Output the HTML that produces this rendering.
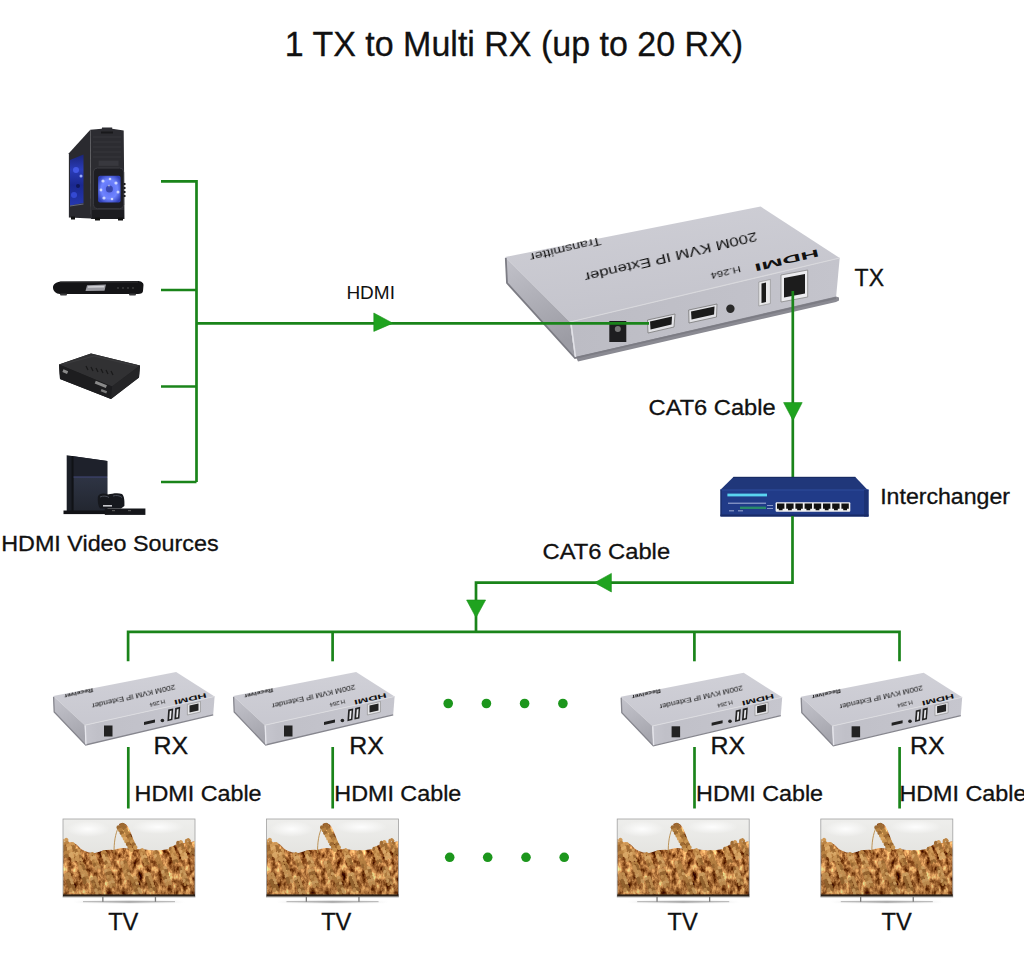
<!DOCTYPE html>
<html><head><meta charset="utf-8">
<style>
html,body{margin:0;padding:0;background:#fff;}
body{width:1024px;height:957px;overflow:hidden;position:relative;}
svg{position:absolute;left:0;top:0;display:block;}
text{font-family:"Liberation Sans",sans-serif;fill:#111;}
.lb{stroke:#111;stroke-width:0.3;}
</style></head>
<body>
<svg width="1024" height="957" viewBox="0 0 1024 957">
<defs>
  <filter id="soft" x="-10%" y="-30%" width="120%" height="160%"><feGaussianBlur stdDeviation="0.35"/></filter>
  <!-- TV symbol: local origin = screen top-left (0,0), 132 x 78 -->
  <linearGradient id="sky" x1="0" y1="0" x2="0" y2="1">
    <stop offset="0" stop-color="#eeeeec"/><stop offset="1" stop-color="#d9d8d3"/>
  </linearGradient>
  <linearGradient id="wheat" x1="0" y1="0" x2="0" y2="1">
    <stop offset="0" stop-color="#b8863e"/><stop offset="0.5" stop-color="#a87434"/><stop offset="1" stop-color="#8e5e28"/>
  </linearGradient>
  <radialGradient id="cloud" cx="0.5" cy="0.5" r="0.5">
    <stop offset="0" stop-color="#ffffff" stop-opacity="0.9"/><stop offset="1" stop-color="#ffffff" stop-opacity="0"/>
  </radialGradient>
  <filter id="wt" x="0" y="0" width="100%" height="100%" color-interpolation-filters="sRGB">
    <feTurbulence type="fractalNoise" baseFrequency="0.2 0.13" numOctaves="4" seed="3" result="n"/>
    <feColorMatrix in="n" type="matrix" values="1.5 0 0 0 -0.02  1.4 0 0 0 -0.225  1.05 0 0 0 -0.28  0 0 0 0 1" result="c"/>
    <feComposite in="c" in2="SourceGraphic" operator="in"/>
  </filter>
  <linearGradient id="shade" x1="0" y1="0" x2="0" y2="1">
    <stop offset="0" stop-color="#000" stop-opacity="0"/><stop offset="1" stop-color="#3a2208" stop-opacity="0.18"/>
  </linearGradient>
  <linearGradient id="standsh" x1="0" y1="0" x2="1" y2="0">
    <stop offset="0" stop-color="#ddd" stop-opacity="0"/><stop offset="0.5" stop-color="#b8b8b8"/><stop offset="1" stop-color="#ddd" stop-opacity="0"/>
  </linearGradient>
  <clipPath id="tvclip"><rect x="0" y="0" width="132" height="78"/></clipPath>
  <g id="tv">
    <rect x="0" y="0" width="132" height="78" fill="url(#sky)"/>
    <ellipse cx="25" cy="10" rx="22" ry="8" fill="url(#cloud)"/>
    <ellipse cx="95" cy="8" rx="26" ry="7" fill="url(#cloud)"/>
    <g filter="url(#wt)"><path d="M0,24 C6,22 12,23 16,28 C20,32 26,34 32,34 C40,31 46,30 50,31 L54,30 C60,28 66,30 70,30 C74,30 80,30 86,31 C94,32 100,31 106,30 C110,26 116,24 120,24 C124,24 128,23 132,22 L132,76 L0,76 Z" fill="#000"/><path d="M56,5 C60,2.5 64,5 66,10 C69,16 71,22 73.5,30 L69,32 C66,25 62,18 58,12 Z" fill="#000"/></g>
    <path d="M51,34 C51,24 52,15 56,7" stroke="#b88a48" stroke-width="0.9" fill="none"/>
    <g clip-path="url(#tvclip)">
<ellipse cx="59.7" cy="6.3" rx="2.2" ry="2.4" fill="#9c6a32" transform="rotate(33 59.7 6.3)"/>
<ellipse cx="55.8" cy="8.5" rx="2.2" ry="2.4" fill="#9c6a32" transform="rotate(89 55.8 8.5)"/>
<ellipse cx="61.3" cy="9.1" rx="2.2" ry="2.4" fill="#9c6a32" transform="rotate(33 61.3 9.1)"/>
<ellipse cx="57.4" cy="11.3" rx="2.2" ry="2.4" fill="#b48040" transform="rotate(89 57.4 11.3)"/>
<ellipse cx="62.8" cy="11.8" rx="2.2" ry="2.4" fill="#b48040" transform="rotate(33 62.8 11.8)"/>
<ellipse cx="58.9" cy="14.0" rx="2.2" ry="2.4" fill="#9c6a32" transform="rotate(89 58.9 14.0)"/>
<ellipse cx="64.4" cy="14.6" rx="2.2" ry="2.4" fill="#b48040" transform="rotate(33 64.4 14.6)"/>
<ellipse cx="60.5" cy="16.8" rx="2.2" ry="2.4" fill="#c89450" transform="rotate(89 60.5 16.8)"/>
<ellipse cx="66.0" cy="17.4" rx="2.2" ry="2.4" fill="#9c6a32" transform="rotate(33 66.0 17.4)"/>
<ellipse cx="62.0" cy="19.6" rx="2.2" ry="2.4" fill="#d8a460" transform="rotate(89 62.0 19.6)"/>
<ellipse cx="67.5" cy="20.2" rx="2.2" ry="2.4" fill="#b48040" transform="rotate(33 67.5 20.2)"/>
<ellipse cx="63.6" cy="22.4" rx="2.2" ry="2.4" fill="#c89450" transform="rotate(89 63.6 22.4)"/>
<ellipse cx="69.1" cy="23.0" rx="2.2" ry="2.4" fill="#c89450" transform="rotate(33 69.1 23.0)"/>
<ellipse cx="65.2" cy="25.2" rx="2.2" ry="2.4" fill="#9c6a32" transform="rotate(89 65.2 25.2)"/>
<ellipse cx="70.6" cy="25.7" rx="2.2" ry="2.4" fill="#9c6a32" transform="rotate(33 70.6 25.7)"/>
<ellipse cx="66.7" cy="27.9" rx="2.2" ry="2.4" fill="#b48040" transform="rotate(89 66.7 27.9)"/>
<ellipse cx="72.2" cy="28.5" rx="2.2" ry="2.4" fill="#c89450" transform="rotate(33 72.2 28.5)"/>
<ellipse cx="68.3" cy="30.7" rx="2.2" ry="2.4" fill="#c89450" transform="rotate(89 68.3 30.7)"/>
<ellipse cx="3.3" cy="21.0" rx="2.2" ry="2.1" fill="#d09a58" transform="rotate(46 3.3 21.0)"/>
<ellipse cx="-0.5" cy="22.0" rx="2.2" ry="2.1" fill="#d09a58" transform="rotate(102 -0.5 22.0)"/>
<ellipse cx="4.1" cy="24.0" rx="2.2" ry="2.1" fill="#bb8444" transform="rotate(46 4.1 24.0)"/>
<ellipse cx="0.4" cy="25.0" rx="2.2" ry="2.1" fill="#bb8444" transform="rotate(102 0.4 25.0)"/>
<ellipse cx="5.0" cy="27.0" rx="2.2" ry="2.1" fill="#d09a58" transform="rotate(46 5.0 27.0)"/>
<ellipse cx="1.2" cy="28.0" rx="2.2" ry="2.1" fill="#a06c34" transform="rotate(102 1.2 28.0)"/>
<ellipse cx="5.8" cy="30.0" rx="2.2" ry="2.1" fill="#dcaa68" transform="rotate(46 5.8 30.0)"/>
<ellipse cx="2.0" cy="31.0" rx="2.2" ry="2.1" fill="#a06c34" transform="rotate(102 2.0 31.0)"/>
<ellipse cx="6.6" cy="33.0" rx="2.2" ry="2.1" fill="#bb8444" transform="rotate(46 6.6 33.0)"/>
<ellipse cx="2.9" cy="34.0" rx="2.2" ry="2.1" fill="#bb8444" transform="rotate(102 2.9 34.0)"/>
<ellipse cx="7.5" cy="36.0" rx="2.2" ry="2.1" fill="#dcaa68" transform="rotate(46 7.5 36.0)"/>
<ellipse cx="3.7" cy="37.0" rx="2.2" ry="2.1" fill="#a06c34" transform="rotate(102 3.7 37.0)"/>
<ellipse cx="10.0" cy="25.1" rx="2.2" ry="1.8" fill="#d09a58" transform="rotate(49 10.0 25.1)"/>
<ellipse cx="6.7" cy="25.9" rx="2.2" ry="1.8" fill="#d09a58" transform="rotate(105 6.7 25.9)"/>
<ellipse cx="10.6" cy="28.1" rx="2.2" ry="1.8" fill="#a06c34" transform="rotate(49 10.6 28.1)"/>
<ellipse cx="7.4" cy="28.9" rx="2.2" ry="1.8" fill="#dcaa68" transform="rotate(105 7.4 28.9)"/>
<ellipse cx="11.3" cy="31.1" rx="2.2" ry="1.8" fill="#a06c34" transform="rotate(49 11.3 31.1)"/>
<ellipse cx="8.0" cy="31.9" rx="2.2" ry="1.8" fill="#d09a58" transform="rotate(105 8.0 31.9)"/>
<ellipse cx="12.0" cy="34.1" rx="2.2" ry="1.8" fill="#dcaa68" transform="rotate(49 12.0 34.1)"/>
<ellipse cx="8.7" cy="34.9" rx="2.2" ry="1.8" fill="#dcaa68" transform="rotate(105 8.7 34.9)"/>
<ellipse cx="12.6" cy="37.1" rx="2.2" ry="1.8" fill="#bb8444" transform="rotate(49 12.6 37.1)"/>
<ellipse cx="9.4" cy="37.9" rx="2.2" ry="1.8" fill="#dcaa68" transform="rotate(105 9.4 37.9)"/>
<ellipse cx="13.3" cy="40.1" rx="2.2" ry="1.8" fill="#d09a58" transform="rotate(49 13.3 40.1)"/>
<ellipse cx="10.0" cy="40.9" rx="2.2" ry="1.8" fill="#d09a58" transform="rotate(105 10.0 40.9)"/>
<ellipse cx="15.8" cy="31.3" rx="2.3" ry="1.5" fill="#d09a58" transform="rotate(48 15.8 31.3)"/>
<ellipse cx="13.0" cy="31.9" rx="2.3" ry="1.5" fill="#a06c34" transform="rotate(104 13.0 31.9)"/>
<ellipse cx="16.6" cy="34.5" rx="2.3" ry="1.5" fill="#d09a58" transform="rotate(48 16.6 34.5)"/>
<ellipse cx="13.8" cy="35.1" rx="2.3" ry="1.5" fill="#dcaa68" transform="rotate(104 13.8 35.1)"/>
<ellipse cx="17.4" cy="37.7" rx="2.3" ry="1.5" fill="#a06c34" transform="rotate(48 17.4 37.7)"/>
<ellipse cx="14.6" cy="38.3" rx="2.3" ry="1.5" fill="#d09a58" transform="rotate(104 14.6 38.3)"/>
<ellipse cx="18.2" cy="40.9" rx="2.3" ry="1.5" fill="#d09a58" transform="rotate(48 18.2 40.9)"/>
<ellipse cx="15.4" cy="41.5" rx="2.3" ry="1.5" fill="#d09a58" transform="rotate(104 15.4 41.5)"/>
<ellipse cx="19.0" cy="44.1" rx="2.3" ry="1.5" fill="#bb8444" transform="rotate(48 19.0 44.1)"/>
<ellipse cx="16.2" cy="44.7" rx="2.3" ry="1.5" fill="#bb8444" transform="rotate(104 16.2 44.7)"/>
<ellipse cx="118.1" cy="23.0" rx="2.2" ry="1.8" fill="#d09a58" transform="rotate(44 118.1 23.0)"/>
<ellipse cx="114.9" cy="24.0" rx="2.2" ry="1.8" fill="#a06c34" transform="rotate(100 114.9 24.0)"/>
<ellipse cx="119.1" cy="26.0" rx="2.2" ry="1.8" fill="#a06c34" transform="rotate(44 119.1 26.0)"/>
<ellipse cx="115.9" cy="27.0" rx="2.2" ry="1.8" fill="#a06c34" transform="rotate(100 115.9 27.0)"/>
<ellipse cx="120.1" cy="29.0" rx="2.2" ry="1.8" fill="#a06c34" transform="rotate(44 120.1 29.0)"/>
<ellipse cx="116.9" cy="30.0" rx="2.2" ry="1.8" fill="#d09a58" transform="rotate(100 116.9 30.0)"/>
<ellipse cx="121.1" cy="32.0" rx="2.2" ry="1.8" fill="#bb8444" transform="rotate(44 121.1 32.0)"/>
<ellipse cx="117.9" cy="33.0" rx="2.2" ry="1.8" fill="#dcaa68" transform="rotate(100 117.9 33.0)"/>
<ellipse cx="122.1" cy="35.0" rx="2.2" ry="1.8" fill="#dcaa68" transform="rotate(44 122.1 35.0)"/>
<ellipse cx="118.9" cy="36.0" rx="2.2" ry="1.8" fill="#d09a58" transform="rotate(100 118.9 36.0)"/>
<ellipse cx="123.1" cy="38.0" rx="2.2" ry="1.8" fill="#dcaa68" transform="rotate(44 123.1 38.0)"/>
<ellipse cx="119.9" cy="39.0" rx="2.2" ry="1.8" fill="#dcaa68" transform="rotate(100 119.9 39.0)"/>
<ellipse cx="109.8" cy="29.2" rx="2.3" ry="1.5" fill="#d09a58" transform="rotate(45 109.8 29.2)"/>
<ellipse cx="107.2" cy="30.0" rx="2.3" ry="1.5" fill="#a06c34" transform="rotate(101 107.2 30.0)"/>
<ellipse cx="110.8" cy="32.4" rx="2.3" ry="1.5" fill="#d09a58" transform="rotate(45 110.8 32.4)"/>
<ellipse cx="108.2" cy="33.2" rx="2.3" ry="1.5" fill="#bb8444" transform="rotate(101 108.2 33.2)"/>
<ellipse cx="111.8" cy="35.6" rx="2.3" ry="1.5" fill="#bb8444" transform="rotate(45 111.8 35.6)"/>
<ellipse cx="109.2" cy="36.4" rx="2.3" ry="1.5" fill="#d09a58" transform="rotate(101 109.2 36.4)"/>
<ellipse cx="112.8" cy="38.8" rx="2.3" ry="1.5" fill="#d09a58" transform="rotate(45 112.8 38.8)"/>
<ellipse cx="110.2" cy="39.6" rx="2.3" ry="1.5" fill="#d09a58" transform="rotate(101 110.2 39.6)"/>
<ellipse cx="113.8" cy="42.0" rx="2.3" ry="1.5" fill="#a06c34" transform="rotate(45 113.8 42.0)"/>
<ellipse cx="111.2" cy="42.8" rx="2.3" ry="1.5" fill="#a06c34" transform="rotate(101 111.2 42.8)"/>
<ellipse cx="125.9" cy="21.1" rx="2.4" ry="1.5" fill="#bb8444" transform="rotate(41 125.9 21.1)"/>
<ellipse cx="123.3" cy="22.1" rx="2.4" ry="1.5" fill="#bb8444" transform="rotate(97 123.3 22.1)"/>
<ellipse cx="127.1" cy="24.3" rx="2.4" ry="1.5" fill="#a06c34" transform="rotate(41 127.1 24.3)"/>
<ellipse cx="124.5" cy="25.3" rx="2.4" ry="1.5" fill="#bb8444" transform="rotate(97 124.5 25.3)"/>
<ellipse cx="128.3" cy="27.5" rx="2.4" ry="1.5" fill="#bb8444" transform="rotate(41 128.3 27.5)"/>
<ellipse cx="125.7" cy="28.5" rx="2.4" ry="1.5" fill="#a06c34" transform="rotate(97 125.7 28.5)"/>
<ellipse cx="129.5" cy="30.7" rx="2.4" ry="1.5" fill="#a06c34" transform="rotate(41 129.5 30.7)"/>
<ellipse cx="126.9" cy="31.7" rx="2.4" ry="1.5" fill="#d09a58" transform="rotate(97 126.9 31.7)"/>
<ellipse cx="130.7" cy="33.9" rx="2.4" ry="1.5" fill="#a06c34" transform="rotate(41 130.7 33.9)"/>
<ellipse cx="128.1" cy="34.9" rx="2.4" ry="1.5" fill="#a06c34" transform="rotate(97 128.1 34.9)"/>
<ellipse cx="30.0" cy="35.0" rx="2.4" ry="1.5" fill="#bb8444" transform="rotate(38 30.0 35.0)"/>
<ellipse cx="27.4" cy="36.2" rx="2.4" ry="1.5" fill="#d09a58" transform="rotate(94 27.4 36.2)"/>
<ellipse cx="31.4" cy="38.2" rx="2.4" ry="1.5" fill="#dcaa68" transform="rotate(38 31.4 38.2)"/>
<ellipse cx="28.8" cy="39.4" rx="2.4" ry="1.5" fill="#dcaa68" transform="rotate(94 28.8 39.4)"/>
<ellipse cx="32.8" cy="41.4" rx="2.4" ry="1.5" fill="#d09a58" transform="rotate(38 32.8 41.4)"/>
<ellipse cx="30.2" cy="42.6" rx="2.4" ry="1.5" fill="#bb8444" transform="rotate(94 30.2 42.6)"/>
<ellipse cx="34.2" cy="44.6" rx="2.4" ry="1.5" fill="#bb8444" transform="rotate(38 34.2 44.6)"/>
<ellipse cx="31.6" cy="45.8" rx="2.4" ry="1.5" fill="#a06c34" transform="rotate(94 31.6 45.8)"/>
<ellipse cx="35.6" cy="47.8" rx="2.4" ry="1.5" fill="#d09a58" transform="rotate(38 35.6 47.8)"/>
<ellipse cx="33.0" cy="49.0" rx="2.4" ry="1.5" fill="#d09a58" transform="rotate(94 33.0 49.0)"/>
<ellipse cx="41.9" cy="33.1" rx="2.4" ry="1.5" fill="#bb8444" transform="rotate(41 41.9 33.1)"/>
<ellipse cx="39.3" cy="34.1" rx="2.4" ry="1.5" fill="#bb8444" transform="rotate(97 39.3 34.1)"/>
<ellipse cx="43.1" cy="36.3" rx="2.4" ry="1.5" fill="#a06c34" transform="rotate(41 43.1 36.3)"/>
<ellipse cx="40.5" cy="37.3" rx="2.4" ry="1.5" fill="#dcaa68" transform="rotate(97 40.5 37.3)"/>
<ellipse cx="44.3" cy="39.5" rx="2.4" ry="1.5" fill="#d09a58" transform="rotate(41 44.3 39.5)"/>
<ellipse cx="41.7" cy="40.5" rx="2.4" ry="1.5" fill="#dcaa68" transform="rotate(97 41.7 40.5)"/>
<ellipse cx="45.5" cy="42.7" rx="2.4" ry="1.5" fill="#dcaa68" transform="rotate(41 45.5 42.7)"/>
<ellipse cx="42.9" cy="43.7" rx="2.4" ry="1.5" fill="#a06c34" transform="rotate(97 42.9 43.7)"/>
<ellipse cx="46.7" cy="45.9" rx="2.4" ry="1.5" fill="#d09a58" transform="rotate(41 46.7 45.9)"/>
<ellipse cx="44.1" cy="46.9" rx="2.4" ry="1.5" fill="#d09a58" transform="rotate(97 44.1 46.9)"/>
<ellipse cx="79.9" cy="31.1" rx="2.4" ry="1.5" fill="#d09a58" transform="rotate(41 79.9 31.1)"/>
<ellipse cx="77.3" cy="32.1" rx="2.4" ry="1.5" fill="#bb8444" transform="rotate(97 77.3 32.1)"/>
<ellipse cx="81.1" cy="34.3" rx="2.4" ry="1.5" fill="#bb8444" transform="rotate(41 81.1 34.3)"/>
<ellipse cx="78.5" cy="35.3" rx="2.4" ry="1.5" fill="#d09a58" transform="rotate(97 78.5 35.3)"/>
<ellipse cx="82.3" cy="37.5" rx="2.4" ry="1.5" fill="#dcaa68" transform="rotate(41 82.3 37.5)"/>
<ellipse cx="79.7" cy="38.5" rx="2.4" ry="1.5" fill="#dcaa68" transform="rotate(97 79.7 38.5)"/>
<ellipse cx="83.5" cy="40.7" rx="2.4" ry="1.5" fill="#a06c34" transform="rotate(41 83.5 40.7)"/>
<ellipse cx="80.9" cy="41.7" rx="2.4" ry="1.5" fill="#bb8444" transform="rotate(97 80.9 41.7)"/>
<ellipse cx="84.7" cy="43.9" rx="2.4" ry="1.5" fill="#a06c34" transform="rotate(41 84.7 43.9)"/>
<ellipse cx="82.1" cy="44.9" rx="2.4" ry="1.5" fill="#bb8444" transform="rotate(97 82.1 44.9)"/>
<ellipse cx="93.9" cy="33.1" rx="2.4" ry="1.5" fill="#a06c34" transform="rotate(41 93.9 33.1)"/>
<ellipse cx="91.3" cy="34.1" rx="2.4" ry="1.5" fill="#bb8444" transform="rotate(97 91.3 34.1)"/>
<ellipse cx="95.1" cy="36.3" rx="2.4" ry="1.5" fill="#bb8444" transform="rotate(41 95.1 36.3)"/>
<ellipse cx="92.5" cy="37.3" rx="2.4" ry="1.5" fill="#dcaa68" transform="rotate(97 92.5 37.3)"/>
<ellipse cx="96.3" cy="39.5" rx="2.4" ry="1.5" fill="#bb8444" transform="rotate(41 96.3 39.5)"/>
<ellipse cx="93.7" cy="40.5" rx="2.4" ry="1.5" fill="#bb8444" transform="rotate(97 93.7 40.5)"/>
<ellipse cx="97.5" cy="42.7" rx="2.4" ry="1.5" fill="#bb8444" transform="rotate(41 97.5 42.7)"/>
<ellipse cx="94.9" cy="43.7" rx="2.4" ry="1.5" fill="#bb8444" transform="rotate(97 94.9 43.7)"/>
<ellipse cx="98.7" cy="45.9" rx="2.4" ry="1.5" fill="#bb8444" transform="rotate(41 98.7 45.9)"/>
<ellipse cx="96.1" cy="46.9" rx="2.4" ry="1.5" fill="#a06c34" transform="rotate(97 96.1 46.9)"/>
<ellipse cx="20.1" cy="47.0" rx="2.2" ry="1.8" fill="#a06c34" transform="rotate(44 20.1 47.0)"/>
<ellipse cx="16.9" cy="48.0" rx="2.2" ry="1.8" fill="#d09a58" transform="rotate(100 16.9 48.0)"/>
<ellipse cx="21.1" cy="50.0" rx="2.2" ry="1.8" fill="#a06c34" transform="rotate(44 21.1 50.0)"/>
<ellipse cx="17.9" cy="51.0" rx="2.2" ry="1.8" fill="#d09a58" transform="rotate(100 17.9 51.0)"/>
<ellipse cx="22.1" cy="53.0" rx="2.2" ry="1.8" fill="#d09a58" transform="rotate(44 22.1 53.0)"/>
<ellipse cx="18.9" cy="54.0" rx="2.2" ry="1.8" fill="#d09a58" transform="rotate(100 18.9 54.0)"/>
<ellipse cx="23.1" cy="56.0" rx="2.2" ry="1.8" fill="#d09a58" transform="rotate(44 23.1 56.0)"/>
<ellipse cx="19.9" cy="57.0" rx="2.2" ry="1.8" fill="#dcaa68" transform="rotate(100 19.9 57.0)"/>
<ellipse cx="24.1" cy="59.0" rx="2.2" ry="1.8" fill="#bb8444" transform="rotate(44 24.1 59.0)"/>
<ellipse cx="20.9" cy="60.0" rx="2.2" ry="1.8" fill="#a06c34" transform="rotate(100 20.9 60.0)"/>
<ellipse cx="25.1" cy="62.0" rx="2.2" ry="1.8" fill="#dcaa68" transform="rotate(44 25.1 62.0)"/>
<ellipse cx="21.9" cy="63.0" rx="2.2" ry="1.8" fill="#a06c34" transform="rotate(100 21.9 63.0)"/>
<ellipse cx="62.1" cy="43.0" rx="2.2" ry="1.8" fill="#a06c34" transform="rotate(44 62.1 43.0)"/>
<ellipse cx="58.9" cy="44.0" rx="2.2" ry="1.8" fill="#dcaa68" transform="rotate(100 58.9 44.0)"/>
<ellipse cx="63.1" cy="46.0" rx="2.2" ry="1.8" fill="#bb8444" transform="rotate(44 63.1 46.0)"/>
<ellipse cx="59.9" cy="47.0" rx="2.2" ry="1.8" fill="#d09a58" transform="rotate(100 59.9 47.0)"/>
<ellipse cx="64.1" cy="49.0" rx="2.2" ry="1.8" fill="#bb8444" transform="rotate(44 64.1 49.0)"/>
<ellipse cx="60.9" cy="50.0" rx="2.2" ry="1.8" fill="#bb8444" transform="rotate(100 60.9 50.0)"/>
<ellipse cx="65.1" cy="52.0" rx="2.2" ry="1.8" fill="#a06c34" transform="rotate(44 65.1 52.0)"/>
<ellipse cx="61.9" cy="53.0" rx="2.2" ry="1.8" fill="#d09a58" transform="rotate(100 61.9 53.0)"/>
<ellipse cx="66.1" cy="55.0" rx="2.2" ry="1.8" fill="#dcaa68" transform="rotate(44 66.1 55.0)"/>
<ellipse cx="62.9" cy="56.0" rx="2.2" ry="1.8" fill="#bb8444" transform="rotate(100 62.9 56.0)"/>
<ellipse cx="67.1" cy="58.0" rx="2.2" ry="1.8" fill="#bb8444" transform="rotate(44 67.1 58.0)"/>
<ellipse cx="63.9" cy="59.0" rx="2.2" ry="1.8" fill="#d09a58" transform="rotate(100 63.9 59.0)"/>
<ellipse cx="46.1" cy="51.0" rx="2.2" ry="1.8" fill="#d09a58" transform="rotate(44 46.1 51.0)"/>
<ellipse cx="42.9" cy="52.0" rx="2.2" ry="1.8" fill="#dcaa68" transform="rotate(100 42.9 52.0)"/>
<ellipse cx="47.1" cy="54.0" rx="2.2" ry="1.8" fill="#a06c34" transform="rotate(44 47.1 54.0)"/>
<ellipse cx="43.9" cy="55.0" rx="2.2" ry="1.8" fill="#a06c34" transform="rotate(100 43.9 55.0)"/>
<ellipse cx="48.1" cy="57.0" rx="2.2" ry="1.8" fill="#bb8444" transform="rotate(44 48.1 57.0)"/>
<ellipse cx="44.9" cy="58.0" rx="2.2" ry="1.8" fill="#d09a58" transform="rotate(100 44.9 58.0)"/>
<ellipse cx="49.1" cy="60.0" rx="2.2" ry="1.8" fill="#d09a58" transform="rotate(44 49.1 60.0)"/>
<ellipse cx="45.9" cy="61.0" rx="2.2" ry="1.8" fill="#bb8444" transform="rotate(100 45.9 61.0)"/>
<ellipse cx="50.1" cy="63.0" rx="2.2" ry="1.8" fill="#dcaa68" transform="rotate(44 50.1 63.0)"/>
<ellipse cx="46.9" cy="64.0" rx="2.2" ry="1.8" fill="#dcaa68" transform="rotate(100 46.9 64.0)"/>
<ellipse cx="51.1" cy="66.0" rx="2.2" ry="1.8" fill="#bb8444" transform="rotate(44 51.1 66.0)"/>
<ellipse cx="47.9" cy="67.0" rx="2.2" ry="1.8" fill="#d09a58" transform="rotate(100 47.9 67.0)"/>
<ellipse cx="102.1" cy="49.0" rx="2.2" ry="1.8" fill="#dcaa68" transform="rotate(44 102.1 49.0)"/>
<ellipse cx="98.9" cy="50.0" rx="2.2" ry="1.8" fill="#bb8444" transform="rotate(100 98.9 50.0)"/>
<ellipse cx="103.1" cy="52.0" rx="2.2" ry="1.8" fill="#a06c34" transform="rotate(44 103.1 52.0)"/>
<ellipse cx="99.9" cy="53.0" rx="2.2" ry="1.8" fill="#dcaa68" transform="rotate(100 99.9 53.0)"/>
<ellipse cx="104.1" cy="55.0" rx="2.2" ry="1.8" fill="#bb8444" transform="rotate(44 104.1 55.0)"/>
<ellipse cx="100.9" cy="56.0" rx="2.2" ry="1.8" fill="#d09a58" transform="rotate(100 100.9 56.0)"/>
<ellipse cx="105.1" cy="58.0" rx="2.2" ry="1.8" fill="#d09a58" transform="rotate(44 105.1 58.0)"/>
<ellipse cx="101.9" cy="59.0" rx="2.2" ry="1.8" fill="#a06c34" transform="rotate(100 101.9 59.0)"/>
<ellipse cx="106.1" cy="61.0" rx="2.2" ry="1.8" fill="#dcaa68" transform="rotate(44 106.1 61.0)"/>
<ellipse cx="102.9" cy="62.0" rx="2.2" ry="1.8" fill="#dcaa68" transform="rotate(100 102.9 62.0)"/>
<ellipse cx="107.1" cy="64.0" rx="2.2" ry="1.8" fill="#d09a58" transform="rotate(44 107.1 64.0)"/>
<ellipse cx="103.9" cy="65.0" rx="2.2" ry="1.8" fill="#d09a58" transform="rotate(100 103.9 65.0)"/>
<ellipse cx="119.8" cy="49.1" rx="2.2" ry="1.5" fill="#d09a58" transform="rotate(44 119.8 49.1)"/>
<ellipse cx="117.2" cy="49.9" rx="2.2" ry="1.5" fill="#a06c34" transform="rotate(100 117.2 49.9)"/>
<ellipse cx="120.8" cy="52.1" rx="2.2" ry="1.5" fill="#d09a58" transform="rotate(44 120.8 52.1)"/>
<ellipse cx="118.2" cy="52.9" rx="2.2" ry="1.5" fill="#dcaa68" transform="rotate(100 118.2 52.9)"/>
<ellipse cx="121.8" cy="55.1" rx="2.2" ry="1.5" fill="#dcaa68" transform="rotate(44 121.8 55.1)"/>
<ellipse cx="119.2" cy="55.9" rx="2.2" ry="1.5" fill="#bb8444" transform="rotate(100 119.2 55.9)"/>
<ellipse cx="122.8" cy="58.1" rx="2.2" ry="1.5" fill="#d09a58" transform="rotate(44 122.8 58.1)"/>
<ellipse cx="120.2" cy="58.9" rx="2.2" ry="1.5" fill="#d09a58" transform="rotate(100 120.2 58.9)"/>
<ellipse cx="123.8" cy="61.1" rx="2.2" ry="1.5" fill="#a06c34" transform="rotate(44 123.8 61.1)"/>
<ellipse cx="121.2" cy="61.9" rx="2.2" ry="1.5" fill="#dcaa68" transform="rotate(100 121.2 61.9)"/>
<ellipse cx="124.8" cy="64.1" rx="2.2" ry="1.5" fill="#d09a58" transform="rotate(44 124.8 64.1)"/>
<ellipse cx="122.2" cy="64.9" rx="2.2" ry="1.5" fill="#bb8444" transform="rotate(100 122.2 64.9)"/>
<ellipse cx="86.1" cy="55.0" rx="2.2" ry="1.8" fill="#dcaa68" transform="rotate(44 86.1 55.0)"/>
<ellipse cx="82.9" cy="56.0" rx="2.2" ry="1.8" fill="#dcaa68" transform="rotate(100 82.9 56.0)"/>
<ellipse cx="87.1" cy="58.0" rx="2.2" ry="1.8" fill="#d09a58" transform="rotate(44 87.1 58.0)"/>
<ellipse cx="83.9" cy="59.0" rx="2.2" ry="1.8" fill="#a06c34" transform="rotate(100 83.9 59.0)"/>
<ellipse cx="88.1" cy="61.0" rx="2.2" ry="1.8" fill="#d09a58" transform="rotate(44 88.1 61.0)"/>
<ellipse cx="84.9" cy="62.0" rx="2.2" ry="1.8" fill="#a06c34" transform="rotate(100 84.9 62.0)"/>
<ellipse cx="89.1" cy="64.0" rx="2.2" ry="1.8" fill="#d09a58" transform="rotate(44 89.1 64.0)"/>
<ellipse cx="85.9" cy="65.0" rx="2.2" ry="1.8" fill="#a06c34" transform="rotate(100 85.9 65.0)"/>
<ellipse cx="90.1" cy="67.0" rx="2.2" ry="1.8" fill="#d09a58" transform="rotate(44 90.1 67.0)"/>
<ellipse cx="86.9" cy="68.0" rx="2.2" ry="1.8" fill="#a06c34" transform="rotate(100 86.9 68.0)"/>
<ellipse cx="91.1" cy="70.0" rx="2.2" ry="1.8" fill="#a06c34" transform="rotate(44 91.1 70.0)"/>
<ellipse cx="87.9" cy="71.0" rx="2.2" ry="1.8" fill="#d09a58" transform="rotate(100 87.9 71.0)"/>
<ellipse cx="6.1" cy="55.0" rx="2.2" ry="1.8" fill="#d09a58" transform="rotate(44 6.1 55.0)"/>
<ellipse cx="2.9" cy="56.0" rx="2.2" ry="1.8" fill="#d09a58" transform="rotate(100 2.9 56.0)"/>
<ellipse cx="7.1" cy="58.0" rx="2.2" ry="1.8" fill="#d09a58" transform="rotate(44 7.1 58.0)"/>
<ellipse cx="3.9" cy="59.0" rx="2.2" ry="1.8" fill="#d09a58" transform="rotate(100 3.9 59.0)"/>
<ellipse cx="8.1" cy="61.0" rx="2.2" ry="1.8" fill="#dcaa68" transform="rotate(44 8.1 61.0)"/>
<ellipse cx="4.9" cy="62.0" rx="2.2" ry="1.8" fill="#a06c34" transform="rotate(100 4.9 62.0)"/>
<ellipse cx="9.1" cy="64.0" rx="2.2" ry="1.8" fill="#dcaa68" transform="rotate(44 9.1 64.0)"/>
<ellipse cx="5.9" cy="65.0" rx="2.2" ry="1.8" fill="#a06c34" transform="rotate(100 5.9 65.0)"/>
<ellipse cx="10.1" cy="67.0" rx="2.2" ry="1.8" fill="#a06c34" transform="rotate(44 10.1 67.0)"/>
<ellipse cx="6.9" cy="68.0" rx="2.2" ry="1.8" fill="#a06c34" transform="rotate(100 6.9 68.0)"/>
<ellipse cx="11.1" cy="70.0" rx="2.2" ry="1.8" fill="#a06c34" transform="rotate(44 11.1 70.0)"/>
<ellipse cx="7.9" cy="71.0" rx="2.2" ry="1.8" fill="#d09a58" transform="rotate(100 7.9 71.0)"/>
<ellipse cx="32.1" cy="58.9" rx="2.1" ry="1.8" fill="#d09a58" transform="rotate(43 32.1 58.9)"/>
<ellipse cx="28.9" cy="60.0" rx="2.1" ry="1.8" fill="#dcaa68" transform="rotate(99 28.9 60.0)"/>
<ellipse cx="33.1" cy="61.7" rx="2.1" ry="1.8" fill="#d09a58" transform="rotate(43 33.1 61.7)"/>
<ellipse cx="29.9" cy="62.8" rx="2.1" ry="1.8" fill="#a06c34" transform="rotate(99 29.9 62.8)"/>
<ellipse cx="34.1" cy="64.5" rx="2.1" ry="1.8" fill="#d09a58" transform="rotate(43 34.1 64.5)"/>
<ellipse cx="30.9" cy="65.6" rx="2.1" ry="1.8" fill="#bb8444" transform="rotate(99 30.9 65.6)"/>
<ellipse cx="35.1" cy="67.4" rx="2.1" ry="1.8" fill="#d09a58" transform="rotate(43 35.1 67.4)"/>
<ellipse cx="31.9" cy="68.5" rx="2.1" ry="1.8" fill="#a06c34" transform="rotate(99 31.9 68.5)"/>
<ellipse cx="36.1" cy="70.2" rx="2.1" ry="1.8" fill="#a06c34" transform="rotate(43 36.1 70.2)"/>
<ellipse cx="32.9" cy="71.3" rx="2.1" ry="1.8" fill="#dcaa68" transform="rotate(99 32.9 71.3)"/>
<ellipse cx="37.1" cy="73.0" rx="2.1" ry="1.8" fill="#d09a58" transform="rotate(43 37.1 73.0)"/>
<ellipse cx="33.9" cy="74.1" rx="2.1" ry="1.8" fill="#dcaa68" transform="rotate(99 33.9 74.1)"/>
<ellipse cx="72.1" cy="58.9" rx="2.1" ry="1.8" fill="#dcaa68" transform="rotate(43 72.1 58.9)"/>
<ellipse cx="68.9" cy="60.0" rx="2.1" ry="1.8" fill="#bb8444" transform="rotate(99 68.9 60.0)"/>
<ellipse cx="73.1" cy="61.7" rx="2.1" ry="1.8" fill="#bb8444" transform="rotate(43 73.1 61.7)"/>
<ellipse cx="69.9" cy="62.8" rx="2.1" ry="1.8" fill="#bb8444" transform="rotate(99 69.9 62.8)"/>
<ellipse cx="74.1" cy="64.5" rx="2.1" ry="1.8" fill="#dcaa68" transform="rotate(43 74.1 64.5)"/>
<ellipse cx="70.9" cy="65.6" rx="2.1" ry="1.8" fill="#a06c34" transform="rotate(99 70.9 65.6)"/>
<ellipse cx="75.1" cy="67.4" rx="2.1" ry="1.8" fill="#a06c34" transform="rotate(43 75.1 67.4)"/>
<ellipse cx="71.9" cy="68.5" rx="2.1" ry="1.8" fill="#bb8444" transform="rotate(99 71.9 68.5)"/>
<ellipse cx="76.1" cy="70.2" rx="2.1" ry="1.8" fill="#dcaa68" transform="rotate(43 76.1 70.2)"/>
<ellipse cx="72.9" cy="71.3" rx="2.1" ry="1.8" fill="#a06c34" transform="rotate(99 72.9 71.3)"/>
<ellipse cx="77.1" cy="73.0" rx="2.1" ry="1.8" fill="#dcaa68" transform="rotate(43 77.1 73.0)"/>
<ellipse cx="73.9" cy="74.1" rx="2.1" ry="1.8" fill="#bb8444" transform="rotate(99 73.9 74.1)"/>
</g>
    <rect x="0" y="30" width="132" height="46" fill="url(#shade)"/>
    <rect x="0" y="0" width="132" height="78" fill="none" stroke="#a0a0a0" stroke-width="0.8"/>
    <rect x="0" y="75.4" width="132" height="2" fill="#2a2018"/>
    <rect x="10" y="81.6" width="112" height="2.6" fill="url(#standsh)"/>
    <rect x="20" y="82" width="92" height="1.2" fill="#a4a4a4" opacity="0.7"/>
    <rect x="39.2" y="77.2" width="1.3" height="5.6" fill="#7a7a7a"/>
    <rect x="91.8" y="77.2" width="1.3" height="5.6" fill="#7a7a7a"/>
  </g>

  <!-- RX box (box 1 absolute coords) -->
  <linearGradient id="rxTop" x1="0" y1="0" x2="0" y2="1">
    <stop offset="0" stop-color="#d0d0d7"/><stop offset="1" stop-color="#c8c8d0"/>
  </linearGradient>
  <linearGradient id="rxFront" x1="0" y1="0" x2="1" y2="0">
    <stop offset="0" stop-color="#c6c6ce"/><stop offset="0.1" stop-color="#c0c0c8"/><stop offset="1" stop-color="#c6c6ce"/>
  </linearGradient>
  <linearGradient id="rxLeft" x1="0" y1="0" x2="0.3" y2="1">
    <stop offset="0" stop-color="#c4c4cc"/><stop offset="1" stop-color="#a6a6ae"/>
  </linearGradient>
  <g id="rx">
    <polygon points="53.3,696 176.1,672 214.6,696.5 84.8,725.2" fill="url(#rxTop)"/>
    <polygon points="53.3,696 84.8,725.2 85.7,745 54.2,712" fill="url(#rxLeft)"/>
    <polygon points="84.8,725.2 214.6,696.5 213.2,714.8 85.7,745" fill="url(#rxFront)"/>
    <polyline points="53.6,697 54.2,712 85.7,745 213.2,714.8" fill="none" stroke="#86868e" stroke-width="1.3"/>
    <line x1="85.2" y1="725.5" x2="86" y2="744.5" stroke="#e6e6ec" stroke-width="1.3"/>
    <line x1="84.8" y1="725.2" x2="214.6" y2="696.5" stroke="#dcdce0" stroke-width="1"/>
    <rect x="104" y="725.5" width="8.5" height="11" fill="#222"/>
    <polygon points="144,722 155,719.5 155,722.5 144,725" fill="#222"/>
    <circle cx="162.4" cy="720.5" r="1.8" fill="#222"/>
    <polygon points="168.2,709.6 173.2,708.4 172.4,720 167.4,721.2" fill="#222"/>
    <polygon points="169.8,711 171.6,710.6 171,718.8 169.2,719.2" fill="#e8e8ec"/>
    <polygon points="175.2,708 180.2,706.8 179.4,718.4 174.4,719.6" fill="#222"/>
    <polygon points="176.8,709.4 178.6,709 178,717.2 176.2,717.6" fill="#e8e8ec"/>
    <polygon points="187.4,704.5 200.5,701.5 200.5,712 187.4,715" fill="#e5e5e8" stroke="#888" stroke-width="0.6"/>
    <polygon points="189.5,705.5 198.5,703.5 198.5,710.5 189.5,712.5" fill="#222"/>
    <text x="0" y="0" font-size="8.2" fill="#6a6a72" filter="url(#soft)" transform="translate(174.5,684.5) rotate(167) scale(1,0.8)">200M KVM IP Extender</text>
    <text x="0" y="0" font-size="5.8" fill="#6a6a72" filter="url(#soft)" transform="translate(164.5,699.5) rotate(167) scale(1,0.8)">H.264</text>
    <text x="0" y="0" font-size="7" font-weight="bold" fill="#5a5a62" filter="url(#soft)" transform="translate(92.5,688) rotate(167) scale(1,0.8)">Receiver</text>
    <text x="0" y="0" font-size="9.5" font-weight="bold" fill="#2a2a2e" transform="translate(206,693) rotate(167) scale(1,0.68)" textLength="33" lengthAdjust="spacingAndGlyphs">HDMI</text>
  </g>
</defs>

<!-- ===== Title ===== -->
<text class="lb" x="284.7" y="56" font-size="34" transform="translate(0,56) scale(1,1.045) translate(0,-56)">1 TX to Multi RX (up to 20 RX)</text>

<!-- ===== Green lines ===== -->
<g stroke="#1a841a" stroke-width="2.7" fill="none">
  <polyline points="161,181.3 196.5,181.3 196.5,482"/>
  <line x1="161" y1="290" x2="196.5" y2="290"/>
  <line x1="161" y1="386.5" x2="196.5" y2="386.5"/>
  <line x1="161" y1="482" x2="196.5" y2="482"/>
</g>

<!-- ===== Source devices ===== -->
<!-- PC tower -->
<defs>
  <radialGradient id="fanG" cx="0.5" cy="0.5" r="0.6">
    <stop offset="0" stop-color="#5a6cf0"/><stop offset="0.6" stop-color="#6f84ff"/><stop offset="1" stop-color="#3040b8"/>
  </radialGradient>
  <linearGradient id="sideWin" x1="0" y1="0" x2="0" y2="1">
    <stop offset="0" stop-color="#1a2478"/><stop offset="0.3" stop-color="#2a3cb8"/><stop offset="0.6" stop-color="#1a2890"/><stop offset="1" stop-color="#2538b0"/>
  </linearGradient>
</defs>
<g>
  <polygon points="68.9,153.3 90.3,129.8 91,218.5 68.9,217.5" fill="#2a2a2f"/>
  <polygon points="90.3,129.8 101.8,128.8 102,127.5 112.2,127.5 112.2,128.8 123.7,130.5 124.5,219 91,219" fill="#2c2c31"/>
  <polygon points="70,160 83.5,154.4 83.5,203 70,205.6" fill="url(#sideWin)"/>
  <circle cx="76" cy="170" r="3" fill="#4a60f0" opacity="0.8"/>
  <circle cx="81" cy="176" r="1.5" fill="#aab8ff" opacity="0.9"/>
  <circle cx="74" cy="195" r="3" fill="#3a50e0" opacity="0.8"/>
  <circle cx="78" cy="186" r="2" fill="#0c1040" opacity="0.7"/>
  <line x1="70" y1="206" x2="83.5" y2="204" stroke="#aab0d0" stroke-width="0.8" opacity="0.6"/>
  <g stroke="#3a3a40" stroke-width="0.8">
    <line x1="93" y1="137" x2="121" y2="137"/><line x1="93" y1="142" x2="121" y2="142"/><line x1="93" y1="147" x2="121" y2="147"/>
    <line x1="93" y1="152" x2="121" y2="152"/><line x1="93" y1="157" x2="121" y2="157"/>
  </g>
  <rect x="98.6" y="160.6" width="20" height="5.3" fill="#38383e"/>
  <rect x="101" y="131.5" width="12" height="2" fill="#18181b"/>
  <rect x="93.4" y="168" width="30.3" height="40.7" rx="4" fill="#1e1e23" stroke="#3c3c42" stroke-width="1"/>
  <rect x="98.1" y="175.8" width="22.5" height="26.6" rx="2" fill="url(#fanG)"/>
  <g fill="#dfe6ff" opacity="0.85">
    <circle cx="103" cy="181" r="1.6"/><circle cx="110" cy="179" r="1.3"/><circle cx="116" cy="183" r="1.6"/>
    <circle cx="101" cy="190" r="1.4"/><circle cx="118" cy="192" r="1.5"/><circle cx="104" cy="198" r="1.6"/>
    <circle cx="112" cy="199" r="1.3"/><circle cx="109" cy="186" r="1.2"/>
  </g>
  <circle cx="109.4" cy="189" r="3.5" fill="#2a3490" opacity="0.7"/>
  <g fill="#18181c">
    <rect x="123.5" y="183" width="2" height="2"/><rect x="123.5" y="187" width="2" height="2"/><rect x="123.5" y="191" width="2" height="2"/><rect x="123.5" y="195" width="2" height="2"/>
  </g>
  <rect x="92" y="210" width="32" height="9" fill="#1c1c20"/>
  <rect x="71" y="216.5" width="4" height="3" fill="#111"/><rect x="95" y="217.5" width="5" height="3" fill="#111"/><rect x="118" y="217.5" width="5" height="3" fill="#111"/>
</g>
<!-- DVD player -->
<g>
  <path d="M53,287.5 C53,284 56,282 61,281.4 L137,281 C141,281 143.5,282.5 143.5,285 L143,291 C143,293 141,294 138,294 L60,294 C56,294 53,291 53,287.5 Z" fill="#141416"/>
  <path d="M60,282 L138,282" stroke="#3a3a3e" stroke-width="0.8"/>
  <polygon points="87,285.2 106,284.6 104.5,290.8 85.5,291" fill="#9a9aa0"/>
  <polygon points="88,286.3 104.5,285.8 104,287.5 87.8,287.8" fill="#d0d0d4"/>
  <g fill="#555"><circle cx="118" cy="288" r="0.8"/><circle cx="123" cy="288" r="0.8"/><circle cx="128" cy="288" r="0.8"/><circle cx="133" cy="288" r="0.8"/></g>
  <rect x="60" y="293.5" width="7" height="2" rx="1" fill="#3a3a3c"/>
  <rect x="129" y="293.5" width="7" height="2" rx="1" fill="#3a3a3c"/>
</g>
<!-- Set-top box -->
<g>
  <polygon points="59,364.5 91,353.5 140,365.5 139,377.5 111,399 60,379" fill="#1f1f21"/>
  <polygon points="59,364.5 91,353.5 140,365.5 112,386.5" fill="#313133"/>
  <polygon points="59,364.5 112,386.5 111,399 60,379" fill="#1d1d1f"/>
  <polygon points="112,386.5 140,365.5 139,377.5 111,399" fill="#252527"/>
  <polyline points="64,364 94,356 136,366" fill="none" stroke="#3c3c3e" stroke-width="1"/>
  <g stroke="#1a1a1a" stroke-width="1.2">
    <line x1="86" y1="366" x2="88" y2="370"/><line x1="91" y1="367" x2="93" y2="371"/><line x1="96" y1="368" x2="98" y2="372"/>
    <line x1="101" y1="369" x2="103" y2="373"/><line x1="106" y1="370" x2="108" y2="374"/><line x1="111" y1="371" x2="113" y2="375"/>
  </g>
  <rect x="63" y="370" width="5" height="3" fill="#8a8a8a" transform="rotate(22 65 371)"/>
  <rect x="95" y="383" width="12" height="3" fill="#8a8a8a" transform="rotate(22 101 384)"/>
  <rect x="101" y="390" width="6" height="2.5" fill="#7a7a7a" transform="rotate(22 104 391)"/>
</g>
<!-- PS4 -->
<defs>
  <linearGradient id="ps4low" x1="0" y1="0" x2="0" y2="1">
    <stop offset="0" stop-color="#2e3444"/><stop offset="1" stop-color="#22262f"/>
  </linearGradient>
</defs>
<g>
  <polygon points="66.7,455.2 107.3,461 107.3,513 66.7,513" fill="#1b1e26"/>
  <polygon points="73.5,456.2 107.3,461 107.3,476.8 73.5,476.8" fill="#1e212b"/>
  <rect x="73.5" y="477.3" width="33.8" height="35.7" fill="url(#ps4low)"/>
  <rect x="71.5" y="456" width="2" height="57" fill="#101216"/>
  <line x1="73.5" y1="477" x2="107" y2="477" stroke="#4a5088" stroke-width="0.9"/>
  <path d="M97.8,497 C99,493 104,493 108,494.5 C112,493.5 118,492.5 122,494 C124.5,496 124.6,502 124.4,506 L121,508.6 L100,508.6 C98,506 97.5,501 97.8,497 Z" fill="#16181d"/>
  <path d="M100,497 C103,495.5 107,496 109,497.5" stroke="#4a4e58" stroke-width="1" fill="none"/>
  <path d="M113,496 C116,495 120,495.5 122,497.5" stroke="#4a4e58" stroke-width="1" fill="none"/>
  <rect x="103" y="505" width="9" height="1.6" fill="#c8c8cc"/>
  <rect x="63.5" y="510.5" width="44" height="3.6" fill="#111216"/>
  <rect x="104.8" y="508.5" width="40.6" height="6.4" fill="#15161a"/>
  <rect x="112" y="510" width="3" height="1.2" fill="#555"/><rect x="128" y="510" width="3" height="1.2" fill="#555"/>
</g>
<!-- Labels -->
<text class="lb" x="1.2" y="551" font-size="22.8" textLength="217.5" lengthAdjust="spacingAndGlyphs">HDMI Video Sources</text>
<text x="346.4" y="298.5" font-size="19" fill="#262626">HDMI</text>

<!-- ===== TX box ===== -->
<defs>
  <linearGradient id="txTop" x1="0" y1="0" x2="0.3" y2="1">
    <stop offset="0" stop-color="#cfcfd6"/><stop offset="1" stop-color="#c4c4cc"/>
  </linearGradient>
  <linearGradient id="txFront" x1="0" y1="0" x2="1" y2="0">
    <stop offset="0" stop-color="#bcbcc4"/><stop offset="1" stop-color="#c4c4cc"/>
  </linearGradient>
  <linearGradient id="txLeft" x1="0" y1="0" x2="0.3" y2="1">
    <stop offset="0" stop-color="#c2c2ca"/><stop offset="1" stop-color="#9c9ca4"/>
  </linearGradient>
</defs>
<g>
  <polygon points="505.3,257 760.6,206.5 839.7,258 570,322" fill="url(#txTop)"/>
  <polygon points="505.3,257 570,322 575,358 507,283" fill="url(#txLeft)"/>
  <polygon points="570,322 839.7,258 836,298 575,358" fill="url(#txFront)"/>
  <polygon points="576,357 836,296.5 839,297.5 839,300.5 836,302 578,361.5" fill="#8a8a92"/>
  <polyline points="505.8,258 507,283 575,358 836,298" fill="none" stroke="#7c7c84" stroke-width="1.8"/>
  <line x1="571" y1="323" x2="575.5" y2="357" stroke="#e2e2e8" stroke-width="1.5"/>
  <line x1="570" y1="322" x2="839.7" y2="258" stroke="#d8d8dc" stroke-width="1.2"/>
  <!-- ports -->
  <rect x="609.3" y="321" width="17" height="21" fill="#1e1e20"/>
  <circle cx="617.8" cy="329" r="3" fill="#777"/>
  <polygon points="647.5,320 675,314 674,327 648,333" fill="#e2e2e6" stroke="#777" stroke-width="0.8"/>
  <polygon points="650,321.5 672,316.5 671.5,324.5 650.5,329.5" fill="#1a1a1a"/>
  <polygon points="688.7,310 717,304 716.5,317 689,323" fill="#e2e2e6" stroke="#777" stroke-width="0.8"/>
  <polygon points="691,311.5 714.5,306.5 714,314.5 691.5,319.5" fill="#1a1a1a"/>
  <circle cx="730.4" cy="308.7" r="4.2" fill="#2a2a2a"/>
  <polygon points="758.8,282 770.4,279.5 770.4,303.5 758.8,306" fill="#e8e8ea" stroke="#888" stroke-width="0.6"/>
  <polygon points="761.5,283.5 766,282.5 766,302 761.5,303" fill="#1a1a1a"/>
  <polygon points="781,275 807.7,270 807.7,297 781,302" fill="#ececef" stroke="#888" stroke-width="0.8"/>
  <polygon points="784,278 805,274 805,293.5 784,297.5" fill="#1c1c1c"/>
  <!-- top face printing -->
  <text x="0" y="0" font-size="16.5" fill="#505058" filter="url(#soft)" transform="translate(756,232) rotate(166.5) scale(1.03,0.78)">200M KVM IP Extender</text>
  <text x="0" y="0" font-size="11.5" fill="#505058" filter="url(#soft)" transform="translate(740,266) rotate(166.5) scale(1,0.8)">H.264</text>
  <text x="0" y="0" font-size="14.5" fill="#505058" filter="url(#soft)" transform="translate(600,237) rotate(166.5) scale(1,0.8)">Transmitter</text>
  <text x="0" y="0" font-size="17" font-weight="bold" fill="#2a2a2e" transform="translate(818,249) rotate(166.5) scale(1,0.62)" textLength="66" lengthAdjust="spacingAndGlyphs">HDMI</text>
</g>
<text class="lb" x="854.6" y="285.8" font-size="23">TX</text>

<!-- HDMI line into TX -->
<g stroke="#1a841a" stroke-width="2.7" fill="none">
  <line x1="196.5" y1="323.3" x2="649" y2="323.3"/>
</g>
<polygon points="373.8,313 392.8,323.2 373.8,331.4" fill="#1fa31f" stroke="#189018" stroke-width="0.6"/>

<!-- Vertical from TX RJ45 down to switch -->
<g stroke="#1a841a" stroke-width="2.7" fill="none">
  <line x1="792.8" y1="291" x2="792.8" y2="478"/>
</g>
<polygon points="783.6,402.6 802.2,402.6 793,420.4" fill="#1fa31f" stroke="#189018" stroke-width="0.6"/>
<text class="lb" x="648.6" y="415.2" font-size="22.3" textLength="127" lengthAdjust="spacingAndGlyphs">CAT6 Cable</text>

<!-- ===== Switch ===== -->
<g>
  <polygon points="733.4,477 855.3,477 867.7,490 720.2,490" fill="#20377a"/>
  <line x1="733.4" y1="477.3" x2="855.3" y2="477.3" stroke="#16285e" stroke-width="1"/>
  <rect x="720.5" y="489.5" width="148" height="27" fill="#213b88"/>
  <line x1="720.5" y1="490" x2="868.5" y2="490" stroke="#2e4c9a" stroke-width="1.2"/>
  <rect x="864" y="490" width="4.5" height="26.5" fill="#1c3274"/>
  <rect x="720.5" y="514.5" width="148" height="2" fill="#182a66"/>
  <rect x="720.5" y="490" width="1.2" height="26" fill="#1a2e6c"/>
  <rect x="727.4" y="493.6" width="39.6" height="2.8" fill="#5ad4f0"/>
  <rect x="728" y="502.6" width="38" height="1.3" fill="#8a9ac8"/>
  <rect x="740" y="506.6" width="26" height="2.4" fill="#2a8a6a"/>
  <rect x="729" y="510.2" width="5" height="1.2" fill="#8a9ac8"/><rect x="738" y="510.2" width="5" height="1.2" fill="#8a9ac8"/>
  <rect x="767" y="505" width="6" height="1" fill="#8a9ac8"/><rect x="767" y="508" width="6" height="1" fill="#8a9ac8"/>
  <rect x="775.6" y="502.2" width="74.7" height="9.6" rx="1" fill="#f2f2f2"/>
  <g fill="#111"><path d="M777.0,503.6 h7.4 v5.2 h-1.8 v1.4 h-3.8 v-1.4 h-1.8 z"/><path d="M786.2,503.6 h7.4 v5.2 h-1.8 v1.4 h-3.8 v-1.4 h-1.8 z"/><path d="M795.4,503.6 h7.4 v5.2 h-1.8 v1.4 h-3.8 v-1.4 h-1.8 z"/><path d="M804.6,503.6 h7.4 v5.2 h-1.8 v1.4 h-3.8 v-1.4 h-1.8 z"/><path d="M813.8,503.6 h7.4 v5.2 h-1.8 v1.4 h-3.8 v-1.4 h-1.8 z"/><path d="M823.0,503.6 h7.4 v5.2 h-1.8 v1.4 h-3.8 v-1.4 h-1.8 z"/><path d="M832.2,503.6 h7.4 v5.2 h-1.8 v1.4 h-3.8 v-1.4 h-1.8 z"/><path d="M841.4,503.6 h7.4 v5.2 h-1.8 v1.4 h-3.8 v-1.4 h-1.8 z"/></g>
</g>
<text class="lb" x="880.2" y="504" font-size="21.5" textLength="129.8" lengthAdjust="spacingAndGlyphs">Interchanger</text>

<!-- Switch down and CAT6 to bus -->
<g stroke="#1a841a" stroke-width="2.7" fill="none">
  <polyline points="792.5,516 792.5,582.7 476,582.7 476,631.9"/>
  <polyline points="128.1,661.3 128.1,631.9 899.5,631.9 899.5,661.3"/>
  <line x1="332.6" y1="631.9" x2="332.6" y2="661.3"/>
  <line x1="694.4" y1="631.9" x2="694.4" y2="661.3"/>
</g>
<polygon points="594.6,582.7 611.4,573.4 611.4,592" fill="#1fa31f" stroke="#189018" stroke-width="0.6"/>
<polygon points="466.6,600 485.6,600 476,617.6" fill="#1fa31f" stroke="#189018" stroke-width="0.6"/>
<text class="lb" x="542.6" y="558.6" font-size="22.5" textLength="127.5" lengthAdjust="spacingAndGlyphs">CAT6 Cable</text>

<!-- ===== RX boxes ===== -->
<use href="#rx"/>
<use href="#rx" transform="translate(180,0)"/>
<use href="#rx" transform="translate(567.6,0.8)"/>
<use href="#rx" transform="translate(747.6,0.8)"/>

<!-- dots -->
<g fill="#1c961c">
  <circle cx="448.2" cy="703.5" r="4.8"/><circle cx="486.4" cy="703.5" r="4.8"/><circle cx="524.6" cy="703.5" r="4.8"/><circle cx="562.9" cy="703.5" r="4.8"/>
  <circle cx="449.7" cy="857.3" r="4.8"/><circle cx="487.7" cy="857.3" r="4.8"/><circle cx="526" cy="857.3" r="4.8"/><circle cx="564.2" cy="857.3" r="4.8"/>
</g>

<!-- RX labels -->
<text class="lb" x="153.4" y="754" font-size="23" textLength="34.6" lengthAdjust="spacingAndGlyphs">RX</text>
<text class="lb" x="349.3" y="754" font-size="23" textLength="34.6" lengthAdjust="spacingAndGlyphs">RX</text>
<text class="lb" x="710.5" y="754" font-size="23" textLength="34.6" lengthAdjust="spacingAndGlyphs">RX</text>
<text class="lb" x="909.9" y="754" font-size="23" textLength="34.6" lengthAdjust="spacingAndGlyphs">RX</text>

<!-- HDMI cable lines -->
<g stroke="#1a841a" stroke-width="2.7" fill="none">
  <line x1="128.3" y1="747" x2="128.3" y2="808.5"/>
  <line x1="332.7" y1="747" x2="332.7" y2="808.5"/>
  <line x1="694.5" y1="747" x2="694.5" y2="808.5"/>
  <line x1="899.6" y1="747" x2="899.6" y2="808.5"/>
</g>
<text class="lb" x="134.6" y="800.5" font-size="21.7" textLength="127" lengthAdjust="spacingAndGlyphs">HDMI Cable</text>
<text class="lb" x="334.3" y="800.5" font-size="21.7" textLength="127" lengthAdjust="spacingAndGlyphs">HDMI Cable</text>
<text class="lb" x="696.1" y="800.5" font-size="21.7" textLength="127" lengthAdjust="spacingAndGlyphs">HDMI Cable</text>
<text class="lb" x="899.4" y="800.5" font-size="21.7" textLength="127" lengthAdjust="spacingAndGlyphs">HDMI Cable</text>

<!-- TVs -->
<use href="#tv" transform="translate(63,819)"/>
<use href="#tv" transform="translate(266.5,819)"/>
<use href="#tv" transform="translate(617.2,819)"/>
<use href="#tv" transform="translate(820.8,819)"/>

<text class="lb" x="108.2" y="930" font-size="23" textLength="30.2" lengthAdjust="spacingAndGlyphs">TV</text>
<text class="lb" x="321.2" y="930" font-size="23" textLength="30.2" lengthAdjust="spacingAndGlyphs">TV</text>
<text class="lb" x="667.5" y="930" font-size="23" textLength="30.2" lengthAdjust="spacingAndGlyphs">TV</text>
<text class="lb" x="881.6" y="930" font-size="23" textLength="30.2" lengthAdjust="spacingAndGlyphs">TV</text>
</svg>
</body></html>
